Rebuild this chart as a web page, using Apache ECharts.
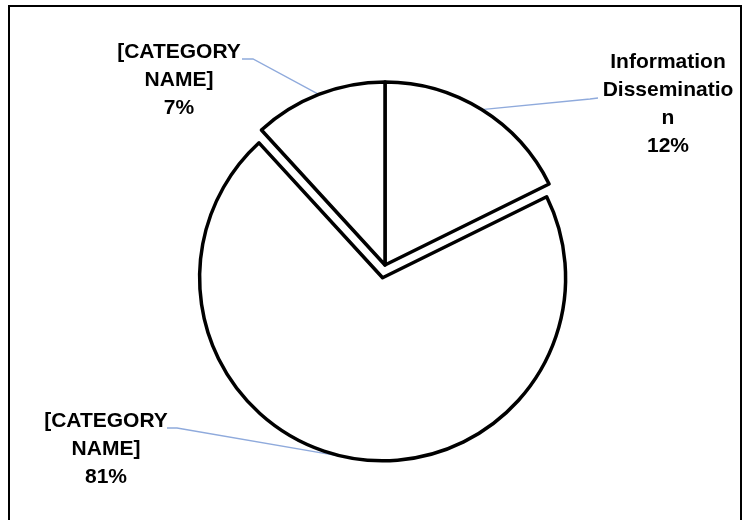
<!DOCTYPE html>
<html>
<head>
<meta charset="utf-8">
<script src="https://cdn.jsdelivr.net/npm/echarts@6/dist/echarts.min.js"></script>
<style>
html,body{margin:0;padding:0;background:#fff;}
#chart{width:747px;height:520px;}
</style>
</head>
<body>
<div id="chart"></div>
<script>
// Categories (clockwise from 12 o'clock)
var categories = ['Information Dissemination', '[CATEGORY NAME]', '[CATEGORY NAME]'];
// Label texts as shown (wrapped as in the reference)
var labelTexts = ['Information\nDisseminatio\nn', '[CATEGORY\nNAME]', '[CATEGORY\nNAME]'];
// Percentages printed on the labels
var percentLabels = ['12%', '81%', '7%'];
// Slice sizes as drawn (share of the circle, %)
var sliceShares = [17.7, 70.5, 11.8];
// Which slice is pulled out
var exploded = [false, true, false];

var chart = echarts.init(document.getElementById('chart'), null, {renderer: 'canvas'});

var CENTER = [385, 265];
var RADIUS = 183;
var EXPLODE = 13;

var labelPos = [
  {x: 668, y: 104, bend: [590, 99], end: [598, 98]},
  {x: 106, y: 449, bend: [177, 428], end: [167, 428]},
  {x: 179, y: 80, bend: [253, 59], end: [242, 59]}
];

var total = sliceShares.reduce(function (a, b) { return a + b; }, 0);
function midAngle(i) {
  var acc = 0;
  for (var k = 0; k < i; k++) acc += sliceShares[k];
  return (acc + sliceShares[i] / 2) / total * 2 * Math.PI;
}

var baseItem = {color: '#ffffff', borderColor: '#000000', borderWidth: 3.5};
var hiddenItem = {color: 'rgba(0,0,0,0)', borderWidth: 0};

function makeSeries(showExploded) {
  var ang = 0, cx = CENTER[0], cy = CENTER[1];
  if (showExploded) {
    var idx = exploded.indexOf(true);
    ang = midAngle(idx);
    cx += EXPLODE * Math.sin(ang);
    cy -= EXPLODE * Math.cos(ang);
  }
  var data = categories.map(function (c, i) {
    var visible = exploded[i] === showExploded;
    return {
      name: c + ' ' + i,
      value: sliceShares[i],
      itemStyle: visible ? baseItem : hiddenItem,
      label: {show: visible, formatter: labelTexts[i] + '\n' + percentLabels[i]},
      labelLine: {show: visible}
    };
  });
  return {
    type: 'pie',
    center: [cx, cy],
    radius: [0, RADIUS],
    startAngle: 90,
    clockwise: true,
    selectedMode: false,
    avoidLabelOverlap: false,
    silent: true,
    emphasis: {disabled: true},
    label: {
      position: 'outside',
      color: '#000',
      fontFamily: 'Liberation Sans, Arial, sans-serif',
      fontWeight: 'bold',
      fontSize: 21,
      lineHeight: 28,
      align: 'center'
    },
    labelLine: {length: 20, length2: 10, lineStyle: {color: '#8FAADC', width: 1.3}},
    labelLayout: function (params) {
      var p = labelPos[params.dataIndex];
      var pts = params.labelLinePoints;
      var start = pts ? pts[0] : p.bend;
      return {
        x: p.x, y: p.y, align: 'center', verticalAlign: 'middle',
        labelLinePoints: [start, p.bend, p.end]
      };
    },
    data: data
  };
}

chart.setOption({
  animation: false,
  backgroundColor: '#ffffff',
  graphic: [{
    type: 'rect',
    shape: {x: 9, y: 6, width: 732, height: 560},
    style: {fill: 'none', stroke: '#000', lineWidth: 2},
    silent: true
  }],
  series: [makeSeries(false), makeSeries(true)]
});
</script>
</body>
</html>
